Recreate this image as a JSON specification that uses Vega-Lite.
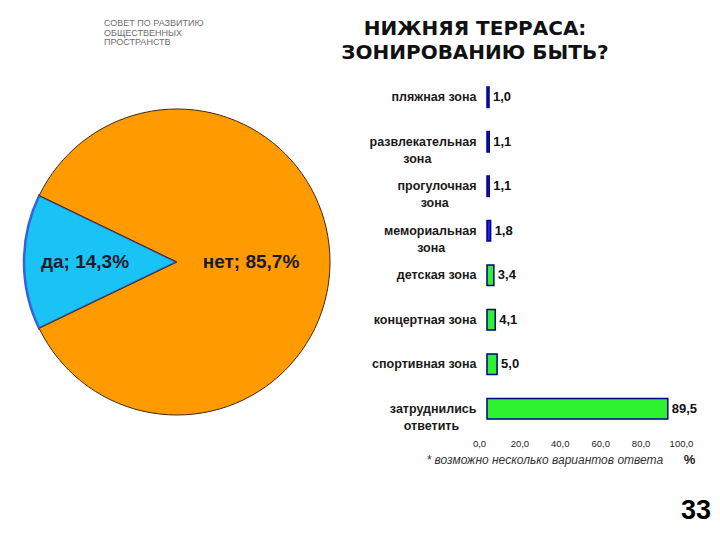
{
  "$schema": "https://vega.github.io/schema/vega-lite/v6.json",
  "background": "white",
  "padding": {"left": 19, "top": 19, "right": 0, "bottom": 0},
  "bounds": "flush",
  "spacing": 157,
  "config": {
    "locale": {"number": {"decimal": ",", "thousands": " ", "grouping": [3], "currency": ["", ""]}},
    "view": {"stroke": null},
    "font": "Liberation Sans"
  },
  "title": {"text": "33", "orient": "bottom", "anchor": "end", "fontSize": 27, "fontWeight": "bold", "color": "#000000", "offset": 32, "dx": 14, "font": "Liberation Sans"},
  "hconcat": [
    {
      "width": 306,
      "height": 374,
      "title": {"text": ["СОВЕТ ПО РАЗВИТИЮ", "ОБЩЕСТВЕННЫХ", "ПРОСТРАНСТВ"], "anchor": "start", "frame": "group", "dx": 80, "offset": 28, "fontSize": 9, "fontWeight": "normal", "color": "#6d6d6d", "lineHeight": 9.5, "font": "Liberation Sans"},
      "data": {"values": [
        {"answer": "да", "share": 14.3, "label": "да; 14,3%"},
        {"answer": "нет", "share": 85.7, "label": "нет; 85,7%"}
      ]},
      "encoding": {
        "theta": {"field": "share", "type": "quantitative", "stack": true, "scale": {"range": [4.264, 10.547]}},
        "order": {"field": "share", "type": "quantitative", "sort": "ascending"}
      },
      "layer": [
        {
          "mark": {"type": "arc"},
          "encoding": {
            "color": {"field": "answer", "type": "nominal", "scale": {"domain": ["да", "нет"], "range": ["#19c3f5", "#ff9a00"]}, "legend": null},
            "stroke": {"condition": {"test": "datum.answer === 'да'", "value": "#3561e0"}, "value": "#3d2a14"},
            "strokeWidth": {"condition": {"test": "datum.answer === 'да'", "value": 2.5}, "value": 1}
          }
        },
        {
          "mark": {"type": "text", "radius": 92, "fontSize": 19, "fontWeight": "bold", "color": "#1a1a2e"},
          "encoding": {"text": {"condition": {"test": "datum.answer === 'да'", "field": "label"}, "value": ""}}
        },
        {
          "mark": {"type": "text", "radius": 74, "fontSize": 19, "fontWeight": "bold", "color": "#1a1a2e"},
          "encoding": {"text": {"condition": {"test": "datum.answer === 'нет'", "field": "label"}, "value": ""}}
        }
      ]
    },
    {
      "width": 202,
      "height": 356,
      "title": {"text": ["НИЖНЯЯ ТЕРРАСА:", "ЗОНИРОВАНИЮ БЫТЬ?"], "anchor": "middle", "frame": "group", "dx": -113, "offset": 12, "fontSize": 20, "font": "DejaVu Sans", "fontWeight": "bold", "lineHeight": 24, "color": "#111111"},
      "data": {"values": [
        {"zone": "пляжная зона", "pct": 1.0},
        {"zone": "развлекательная\nзона", "pct": 1.1},
        {"zone": "прогулочная\nзона", "pct": 1.1},
        {"zone": "мемориальная\nзона", "pct": 1.8},
        {"zone": "детская зона", "pct": 3.4},
        {"zone": "концертная зона", "pct": 4.1},
        {"zone": "спортивная зона", "pct": 5.0},
        {"zone": "затруднились\nответить", "pct": 89.5}
      ]},
      "encoding": {
        "y": {
          "field": "zone", "type": "nominal", "sort": null,
          "scale": {"paddingInner": 0.54, "paddingOuter": 0.27},
          "axis": {
            "title": "* возможно несколько вариантов ответа",
            "titleAngle": 0, "titleX": -61, "titleY": 384, "titleAlign": "left", "titleBaseline": "middle",
            "titleFont": "Liberation Sans", "titleFontStyle": "italic", "titleFontWeight": "normal", "titleFontSize": 12, "titleColor": "#333333",
            "domain": false, "ticks": false, "labelPadding": 11,
            "labelFontSize": 12.5, "labelFontWeight": "bold", "labelColor": "#1a1a1a", "labelLineHeight": 17, "labelLimit": 220,
            "labelExpr": "length(split(datum.value, '\\n')) > 1 ? [split(datum.value, '\\n')[0], split(datum.value, '\\n')[1] + substring('\u00a0\u00a0\u00a0\u00a0\u00a0\u00a0\u00a0\u00a0\u00a0\u00a0\u00a0\u00a0\u00a0\u00a0\u00a0\u00a0\u00a0\u00a0\u00a0\u00a0\u00a0\u00a0\u00a0\u00a0\u00a0\u00a0\u00a0\u00a0\u00a0\u00a0', 0, round(1.15 * (length(split(datum.value, '\\n')[0]) - length(split(datum.value, '\\n')[1])))) + '\u200b'] : datum.value"
          }
        },
        "x": {
          "field": "pct", "type": "quantitative",
          "scale": {"domain": [0, 100], "nice": false},
          "axis": {
            "title": "%", "titleX": 202, "titleY": 28, "titleAlign": "center", "titleBaseline": "middle",
            "titleFontSize": 13, "titleFontWeight": "bold", "titleColor": "#222222",
            "values": [0, 20, 40, 60, 80, 100], "format": ".1f",
            "domain": false, "ticks": false, "grid": false, "labelPadding": 7, "labelFontSize": 9.5,
            "labelColor": "#222222", "labelOffset": -8, "labelFlush": false
          }
        }
      },
      "layer": [
        {
          "mark": {"type": "bar", "stroke": "#000080", "strokeWidth": 1.5},
          "encoding": {
            "color": {"condition": {"test": "datum.pct > 3", "value": "#2ef22e"}, "value": "#2323e6"}
          }
        },
        {
          "mark": {"type": "text", "align": "left", "baseline": "middle", "dx": 4, "fontWeight": "bold", "fontSize": 13, "color": "#111111"},
          "encoding": {"text": {"field": "pct", "type": "quantitative", "format": ".1f"}}
        }
      ]
    }
  ]
}
